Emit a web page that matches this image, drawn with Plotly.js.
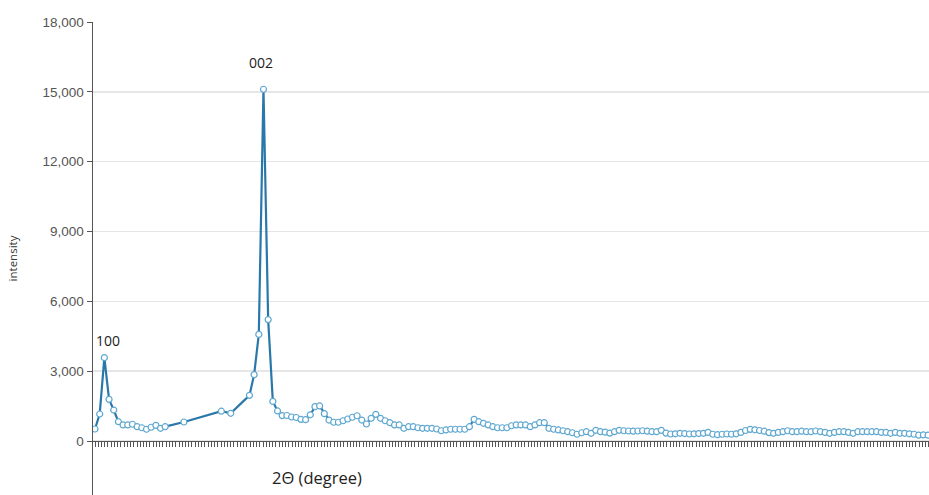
<!DOCTYPE html>
<html>
<head>
<meta charset="utf-8">
<script src="https://cdn.plot.ly/plotly-3.0.1.min.js"></script>
<style>html,body{margin:0;padding:0;background:#fff;}#chart{width:929px;height:495px;}</style>
</head>
<body>
<div id="chart"></div>
<script>
// 2θ scan: start angle and step (degrees)
var thetaStart = 12.0;
var thetaStep = 0.42;

// intensity per scan step (null = no plotted point; line bridges it)
var intensity = [
  515,1160,3580,1790,1330,830,690,690,720,615,570,505,590,675,545,615,
  null,null,null,815,null,null,null,null,null,null,null,1280,null,1190,null,null,null,
  1960,2850,4580,15110,5215,1700,
  1290,1090,1095,1030,1010,930,915,1125,1475,1505,1175,900,805,805,870,945,1020,1085,900,730,
  975,1145,975,870,785,690,690,545,615,615,570,545,545,545,515,440,475,505,505,505,505,615,
  930,830,760,690,615,570,570,570,655,690,690,690,615,690,785,785,545,505,475,440,400,355,
  290,355,400,330,
  460,400,380,340,400,460,440,430,420,430,440,420,400,400,460,340,300,310,330,320,300,310,
  320,330,370,290,270,290,300,290,310,370,450,500,480,450,
  420,360,330,370,400,440,400,400,420,400,400,430,400,370,330,370,400,400,370,330,400,400,
  400,400,400,370,370,330,370,330,330,310,290,250,260,250
];

// peak labels (Miller indices) and their scan-step positions
var peakLabels = ['100', '002'];
var peakSteps = [2, 36];

var yTicks = [0, 3000, 6000, 9000, 12000, 15000, 18000];

var trace = {
  type: 'scatter',
  mode: 'lines+markers',
  x0: thetaStart,
  dx: thetaStep,
  y: intensity,
  connectgaps: true,
  line: {color: '#2a78aa', width: 2.2},
  marker: {symbol: 'circle', size: 6, color: '#ffffff', line: {color: '#5ea7d0', width: 1.2}},
  hoverinfo: 'none'
};

var shifts = [{xs: 4, ys: 6}, {xs: -2, ys: 15}];
var annotations = peakLabels.map(function (lab, i) {
  var s = peakSteps[i];
  return {
    x: thetaStart + s * thetaStep,
    y: intensity[s],
    xref: 'x', yref: 'y',
    text: lab,
    showarrow: false,
    yanchor: 'bottom',
    xshift: shifts[i].xs,
    yshift: shifts[i].ys,
    font: {family: 'Open Sans, Arial, sans-serif', size: 14, color: '#222'}
  };
});
annotations.push({
  xref: 'paper', yref: 'paper',
  x: 0.268, y: 0.038,
  text: '2Θ (degree)',
  showarrow: false,
  xanchor: 'center', yanchor: 'middle',
  font: {family: 'Open Sans, Arial, sans-serif', size: 16.5, color: '#222'}
});

var yMin = -2320, yMax = 18000;
var nSteps = intensity.length;
var xMin = thetaStart - 0.427 * thetaStep;
var xMax = thetaStart + (nSteps - 1 + 0.2) * thetaStep;

var layout = {
  width: 929,
  height: 495,
  margin: {l: 93, r: 0, t: 22, b: 0},
  paper_bgcolor: '#ffffff',
  plot_bgcolor: '#ffffff',
  showlegend: false,
  font: {family: 'Open Sans, Arial, sans-serif', color: '#444'},
  xaxis: {
    range: [xMin, xMax],
    anchor: 'free',
    position: (0 - yMin) / (yMax - yMin),
    showgrid: false,
    zeroline: false,
    showline: true,
    linecolor: '#555',
    linewidth: 1.5,
    ticks: 'outside',
    ticklen: 5,
    tickwidth: 1,
    tickcolor: '#555',
    tick0: thetaStart,
    dtick: 0.29,
    showticklabels: false
  },
  yaxis: {
    range: [yMin, yMax],
    tickvals: yTicks,
    tickformat: ',d',
    showgrid: true,
    gridcolor: '#e6e6e6',
    gridwidth: 1.5,
    zeroline: false,
    showline: true,
    linecolor: '#555',
    linewidth: 1.5,
    ticks: 'outside',
    ticklen: 5,
    tickcolor: '#555',
    tickfont: {family: 'Arial, Liberation Sans, sans-serif', size: 13.5, color: '#555'},
    title: {text: 'intensity', standoff: 22, font: {family: 'Open Sans, Arial, sans-serif', size: 11.5, color: '#333'}}
  },
  annotations: annotations
};

Plotly.newPlot('chart', [trace], layout, {displayModeBar: false, staticPlot: true});
</script>
</body>
</html>
